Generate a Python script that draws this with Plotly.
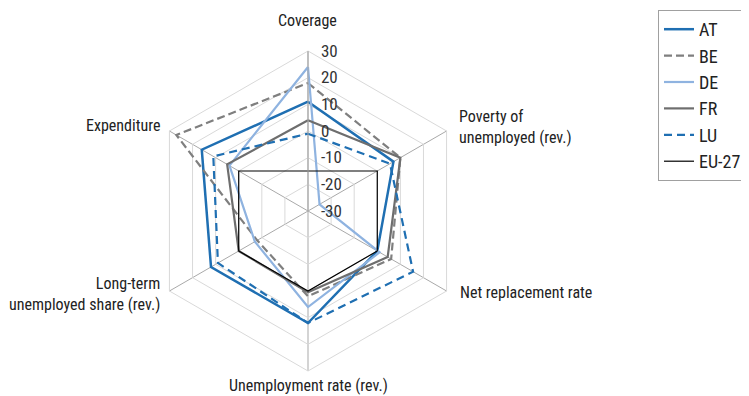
import plotly.graph_objects as go

categories = ["Coverage", "Poverty of<br>unemployed (rev.)", "Net replacement rate",
              "Unemployment rate (rev.)", "Long-term<br>unemployed share (rev.)", "Expenditure"]
radial_ticks = [-30, -20, -10, 0, 10, 20, 30]
radial_ticktext = ["-30", "-20", "-10", "0", "10", "20", "30"]

AT = [11, 7, 0, 12, 12, 16]
BE = [18, 10, 6, 2, -8, 27]
DE = [24, -25, 1, 6, -7, 4]
FR = [4, 10, 4.5, 0.5, 0, 5]
LU = [-1, 5.5, 15.5, 12, 9, 11]
EU27 = [-15, 0, 0, 0, 0, 0]

series = [
    ("AT", AT, "#1f6fb2", "solid", 2.5),
    ("BE", BE, "#7f7f7f", "8px,4px", 2.2),
    ("DE", DE, "#8fb3e0", "solid", 2.2),
    ("FR", FR, "#6e6e6e", "solid", 2.2),
    ("LU", LU, "#1f6fb2", "8px,5px", 2.2),
    ("EU-27", EU27, "#000000", "solid", 1.2),
]

FONT = "Roboto Condensed, DejaVu Sans Condensed, sans-serif"

fig = go.Figure()
theta_closed = categories + [categories[0]]
for name, vals, color, dash, width in series:
    fig.add_trace(go.Scatterpolar(
        r=vals + [vals[0]], theta=theta_closed, mode="lines", name=name,
        line=dict(color=color, dash=dash, width=width),
    ))

# the page body adds an 8px offset: shrink the figure so it fits the window
OFF = 8
W, H = 749 - OFF, 396 - OFF
cx, cy, R = 308 - OFF, 211 - OFF, 160
fig.update_layout(
    width=W, height=H,
    margin=dict(l=0, r=0, t=0, b=0),
    paper_bgcolor="white",
    font=dict(family=FONT, size=16, color="#222222"),
    polar=dict(
        domain=dict(x=[(cx - R) / W, (cx + R) / W], y=[(H - cy - R) / H, (H - cy + R) / H]),
        gridshape="linear",
        bgcolor="white",
        angularaxis=dict(
            categoryorder="array", categoryarray=categories,
            direction="clockwise", rotation=90,
            showticklabels=False, ticks="",
            gridcolor="#a9a9a9", gridwidth=1,
            showline=True, linecolor="#d9d9d9", linewidth=1,
        ),
        radialaxis=dict(
            range=[-30, 30], tickvals=radial_ticks, ticktext=radial_ticktext,
            angle=90, tickangle=90,
            ticks="outside", ticklen=9, tickcolor="rgba(0,0,0,0)",
            showline=True, linecolor="#a9a9a9", linewidth=1,
            gridcolor="#d9d9d9", gridwidth=1,
            tickfont=dict(size=17, color="#333333", family=FONT),
        ),
    ),
    legend=dict(
        x=(747 - OFF) / W, y=1 - (10 - OFF) / H, xanchor="right", yanchor="top",
        bordercolor="#a0a0a0", borderwidth=1,
        font=dict(size=18, color="#222222", family=FONT),
        itemwidth=30, tracegroupgap=0,
    ),
    showlegend=True,
)

label_pos = [
    (307, 20, "center", "center"),
    (457, 127, "left", "left"),
    (458, 292, "left", "left"),
    (308, 385, "center", "center"),
    (162, 294, "right", "right"),
    (162, 125, "right", "right"),
]
for text, (x, y, xa, al) in zip(categories, label_pos):
    fig.add_annotation(
        x=(x - OFF) / W, y=1 - (y - OFF) / H, xref="paper", yref="paper",
        text=text, showarrow=False, xanchor=xa, yanchor="middle", align=al,
        font=dict(size=16, color="#222222", family=FONT),
    )

fig.write_html("out.html")
